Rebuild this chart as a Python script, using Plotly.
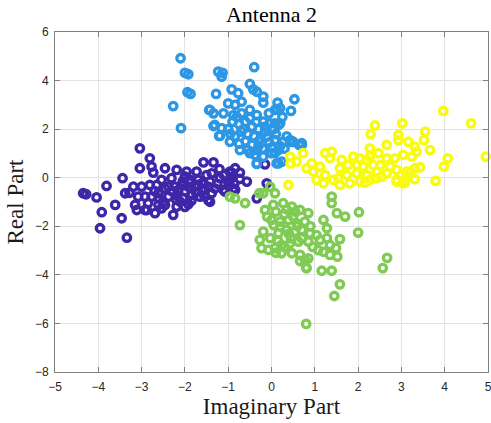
import plotly.graph_objects as go

# ---- data (x = imaginary part, y = real part) ----
purple_x = [-3.04,-2.81,-2.77,-3.04,-3.44,-3.81,-4.35,-4.28,-4.04,-3.92,-3.61,-3.46,-3.96,-3.34,-3.19,-3.28,-3.11,-2.88,-2.69,
            -2.46,-2.19,-1.96,-1.73,-1.57,-1.34,-1.38,-1.19,-0.96,-1.00,-1.07,-2.27,-1.92,-1.42,
            -2.73,-1.50,-0.96,-0.92,-0.73,-1.11,-3.38,-3.00,-2.81,-2.65,-3.08,-2.92,-2.77,-2.92,-2.54,-2.46,
            -2.38,-2.23,-2.07,-1.92,-1.77,-1.61,-1.46,-2.38,-2.19,-2.04,-1.84,-1.65,-1.46,-2.54,-2.31,-1.88,-1.69,-1.54,-1.38,-1.31,-1.42,
            -2.61,-2.50,-2.61,-2.19,-2.11,-3.15,-0.94,-0.86,-0.73,-0.84,
            -0.15,-0.84,-0.88,-0.57,-0.34,-0.11,
            -2.00,-1.90,-2.15,-1.75,-2.30,-2.05,-1.60,-1.85,-2.45,-2.70,-1.25,-1.20,-2.00,-1.70,-2.20,-2.60,-2.85,-1.55,-2.00,-1.10]
purple_y = [1.21,0.80,0.46,0.39,-0.02,-0.34,-0.64,-0.68,-0.81,-1.42,-1.12,-1.67,-2.08,-2.47,-0.37,-0.62,-1.33,-1.33,-1.46,
            0.39,0.32,0.25,0.25,0.63,0.63,0.18,-0.02,0.25,-0.16,-0.57,-1.53,-1.09,-0.99,
            0.21,0.11,-0.09,0.21,0.21,-0.50,-0.64,-0.37,-0.30,-0.30,-0.78,-0.78,-0.78,-1.33,-1.26,-1.12,
            -0.37,-0.37,-0.30,-0.37,-0.37,-0.23,-0.37,-0.78,-0.71,-0.85,-0.71,-0.78,-0.92,-0.09,-0.02,-0.09,-0.09,-0.50,-0.64,-0.44,-0.16,
            -0.64,-0.99,-1.12,-1.19,-0.99,-1.12,0.02,-0.25,-0.05,-0.50,
            0.55,0.39,-0.44,-0.16,-0.85,-0.23,
            -0.55,-0.20,-0.50,-0.60,-0.55,-0.15,-0.45,-0.95,-0.45,-0.55,-0.25,0.35,0.05,-0.30,-0.90,-0.85,-1.05,-0.75,-1.20,0.10]

blue_x = [-2.10,-2.00,-1.92,-1.23,-1.13,-1.15,-0.40,-1.94,-1.87,-1.28,-2.27,-2.09,0.12,-1.44,-1.34,-1.21,0.49,0.70,0.16,0.08,-0.34,
          -0.92,-0.77,-0.50,-0.34,-0.42,-0.19,-0.19,0.14,0.20,0.53,0.45,-0.06,0.08,-1.00,-0.84,-0.69,-1.42,-1.34,
          -1.11,-0.88,-0.69,-0.50,-0.34,-1.31,-1.15,-1.19,-0.96,-0.73,-0.50,-0.34,-0.19,-0.03,0.16,
          -0.11,0.08,0.27,0.50,0.70,-0.38,-0.19,0.00,0.16,-0.34,
          0.08,0.20,0.43,0.43,0.64,0.12,0.24,
          -0.90,-0.75,-0.60,-0.45,-0.30,-0.70,-0.55,-0.40,-0.25,-0.85,-0.60,-0.45,-0.30,-0.15,-0.05,0.10,0.20,-0.80,-0.50,-0.65,
          -0.35,-0.15,0.05,-0.20,0.35,0.30,-0.55,-1.00,-0.95,0.00,-0.30,-0.75,0.25]
blue_y = [4.92,4.32,4.26,4.37,4.32,4.16,4.55,3.52,3.45,3.45,2.95,2.04,2.82,2.79,2.13,1.72,1.48,1.35,0.59,1.01,0.57,
          3.64,3.48,3.86,3.54,3.64,3.34,3.09,3.09,2.86,3.23,2.75,2.65,2.79,3.06,3.00,3.13,2.79,2.65,
          2.65,2.58,2.65,2.79,2.58,2.17,2.04,1.72,1.48,1.14,1.01,1.14,2.31,2.24,2.17,
          1.69,1.55,1.48,1.48,1.42,0.94,0.87,1.01,1.14,0.59,
          2.24,2.24,1.55,1.48,1.35,0.59,0.66,
          2.30,2.20,2.30,2.10,2.00,1.90,1.80,1.70,1.60,1.70,1.50,1.35,1.30,1.90,1.45,1.80,1.30,2.50,2.45,2.00,
          2.30,2.10,2.00,1.20,1.70,1.20,1.15,2.00,1.80,1.25,1.50,1.40,2.50]

yellow_x = [3.97,4.61,4.95,3.55,3.52,3.66,4.07,3.98,3.79,3.02,2.29,3.43,3.20,3.31,3.08,2.89,2.39,2.16,
            2.39,2.93,2.93,3.16,2.66,2.27,3.31,3.35,0.39,0.73,0.43,0.58,0.44,0.81,0.93,0.97,
            1.24,1.39,1.35,1.24,1.43,1.20,1.04,1.62,1.77,1.58,1.89,2.04,2.20,
            2.27,2.47,2.66,2.85,3.04,3.24,1.74,1.97,2.20,2.43,2.66,2.89,3.12,3.31,
            1.81,2.04,2.27,2.43,2.54,2.89,3.04,3.08,1.97,2.12,2.35,2.51,2.74,1.58,1.54,1.12]
yellow_y = [2.75,2.24,0.87,1.90,1.55,1.14,0.80,0.46,-0.13,2.24,1.79,0.43,0.25,-0.06,-0.20,-0.09,-0.02,-0.20,
            2.15,1.76,1.55,1.48,1.35,1.21,1.28,1.07,-0.30,1.01,0.87,0.66,0.59,0.39,0.59,0.25,
            1.01,1.07,0.80,0.11,-0.09,-0.23,-0.09,0.73,0.52,0.39,0.87,0.80,0.73,
            0.87,1.01,0.80,0.80,0.94,0.87,0.11,0.18,0.11,0.25,0.18,0.32,0.25,0.39,
            -0.23,-0.16,-0.09,-0.02,0.04,-0.16,-0.23,-0.09,0.52,0.46,0.52,0.52,0.46,-0.30,-0.02,0.46]

green_x = [-0.84,-0.61,-0.73,-0.03,0.08,-0.19,1.39,1.39,1.51,1.20,1.28,
           -0.15,0.04,0.27,0.47,0.66,0.85,0.00,0.20,0.39,0.58,0.77,
           -0.19,-0.27,-0.03,0.16,0.35,0.54,0.70,0.89,1.04,
           -0.23,-0.07,0.08,0.23,0.43,0.62,0.85,1.12,
           0.23,0.47,0.66,0.85,0.77,1.08,1.20,1.35,0.81,1.16,1.39,1.28,1.35,
           0.10,0.30,0.50,0.20,0.40,0.60,0.70,0.15,0.35,0.55,0.05,0.90,0.30,0.95,-0.10,0.45,
           -0.28,1.70,2.02,2.00,1.58,1.49,1.52,1.58,1.45,0.80,0.10,0.66,0.80,2.67,2.57,-0.96]
green_y = [-0.85,-1.05,-1.95,-0.37,-0.64,-0.64,-0.78,-1.05,-1.46,-1.74,-2.08,
           -1.33,-1.12,-1.05,-1.19,-1.33,-1.46,-1.74,-1.81,-1.74,-1.88,-1.81,
           -2.22,-2.56,-2.49,-2.29,-2.15,-2.22,-2.15,-2.29,-2.36,
           -2.90,-2.97,-2.90,-2.77,-2.70,-2.63,-2.63,-2.56,
           -3.11,-3.11,-3.18,-3.32,-3.39,-2.98,-3.05,-3.18,-3.73,-3.83,-3.83,-2.49,-2.77,
           -1.40,-1.50,-1.60,-2.00,-2.30,-2.00,-2.50,-2.60,-1.30,-1.40,-1.95,-2.00,-2.85,-2.85,-1.60,-2.50,
           -0.64,-1.60,-1.42,-2.26,-2.53,-2.90,-3.25,-4.39,-4.87,-6.02,-3.09,-3.43,-3.70,-3.30,-3.72,-0.78]

x_ticks = [-5,-4,-3,-2,-1,0,1,2,3,4,5]
y_ticks = [-8,-6,-4,-2,0,2,4,6]

series = [
    (purple_x, purple_y, "#3E26A8"),
    (blue_x, blue_y, "#2C97E4"),
    (yellow_x, yellow_y, "#F9FB0E"),
    (green_x, green_y, "#7FCB54"),
]

fig = go.Figure()
for xs, ys, col in series:
    fig.add_trace(go.Scatter(
        x=xs, y=ys, mode="markers",
        marker=dict(symbol="circle-open", size=7.5, color=col, line=dict(width=3.3, color=col)),
        showlegend=False, hoverinfo="skip", cliponaxis=False))

axis_common = dict(
    showgrid=True, gridcolor="#E3E3E3", gridwidth=1,
    showline=True, linecolor="#808080", linewidth=1, mirror="ticks",
    ticks="inside", ticklen=5, tickcolor="#808080",
    zeroline=False, ticklabeloverflow="allow", automargin=False,
    tickfont=dict(family="Liberation Sans, Arial, sans-serif", size=12, color="#262626"),
)

fig.update_layout(
    width=491, height=423,
    margin=dict(l=55, r=3, t=32, b=51, autoexpand=False),
    paper_bgcolor="white", plot_bgcolor="white",
    title=dict(text="Antenna 2", x=0.5, xanchor="center", xref="paper",
               y=1 - 14 / 423, yanchor="middle",
               font=dict(family="Liberation Serif, serif", size=22, color="#000000")),
    xaxis=dict(range=[-5, 5], tickvals=x_ticks, ticklabelstandoff=4,
               title=dict(text="Imaginary Part", standoff=4,
                          font=dict(family="Liberation Serif, serif", size=23, color="#1a1a1a")),
               **axis_common),
    yaxis=dict(range=[-8, 6], tickvals=y_ticks, ticklabelstandoff=3,
               title=dict(text="Real Part", standoff=4,
                          font=dict(family="Liberation Serif, serif", size=23, color="#1a1a1a")),
               **axis_common),
)

fig.write_html("out.html")
